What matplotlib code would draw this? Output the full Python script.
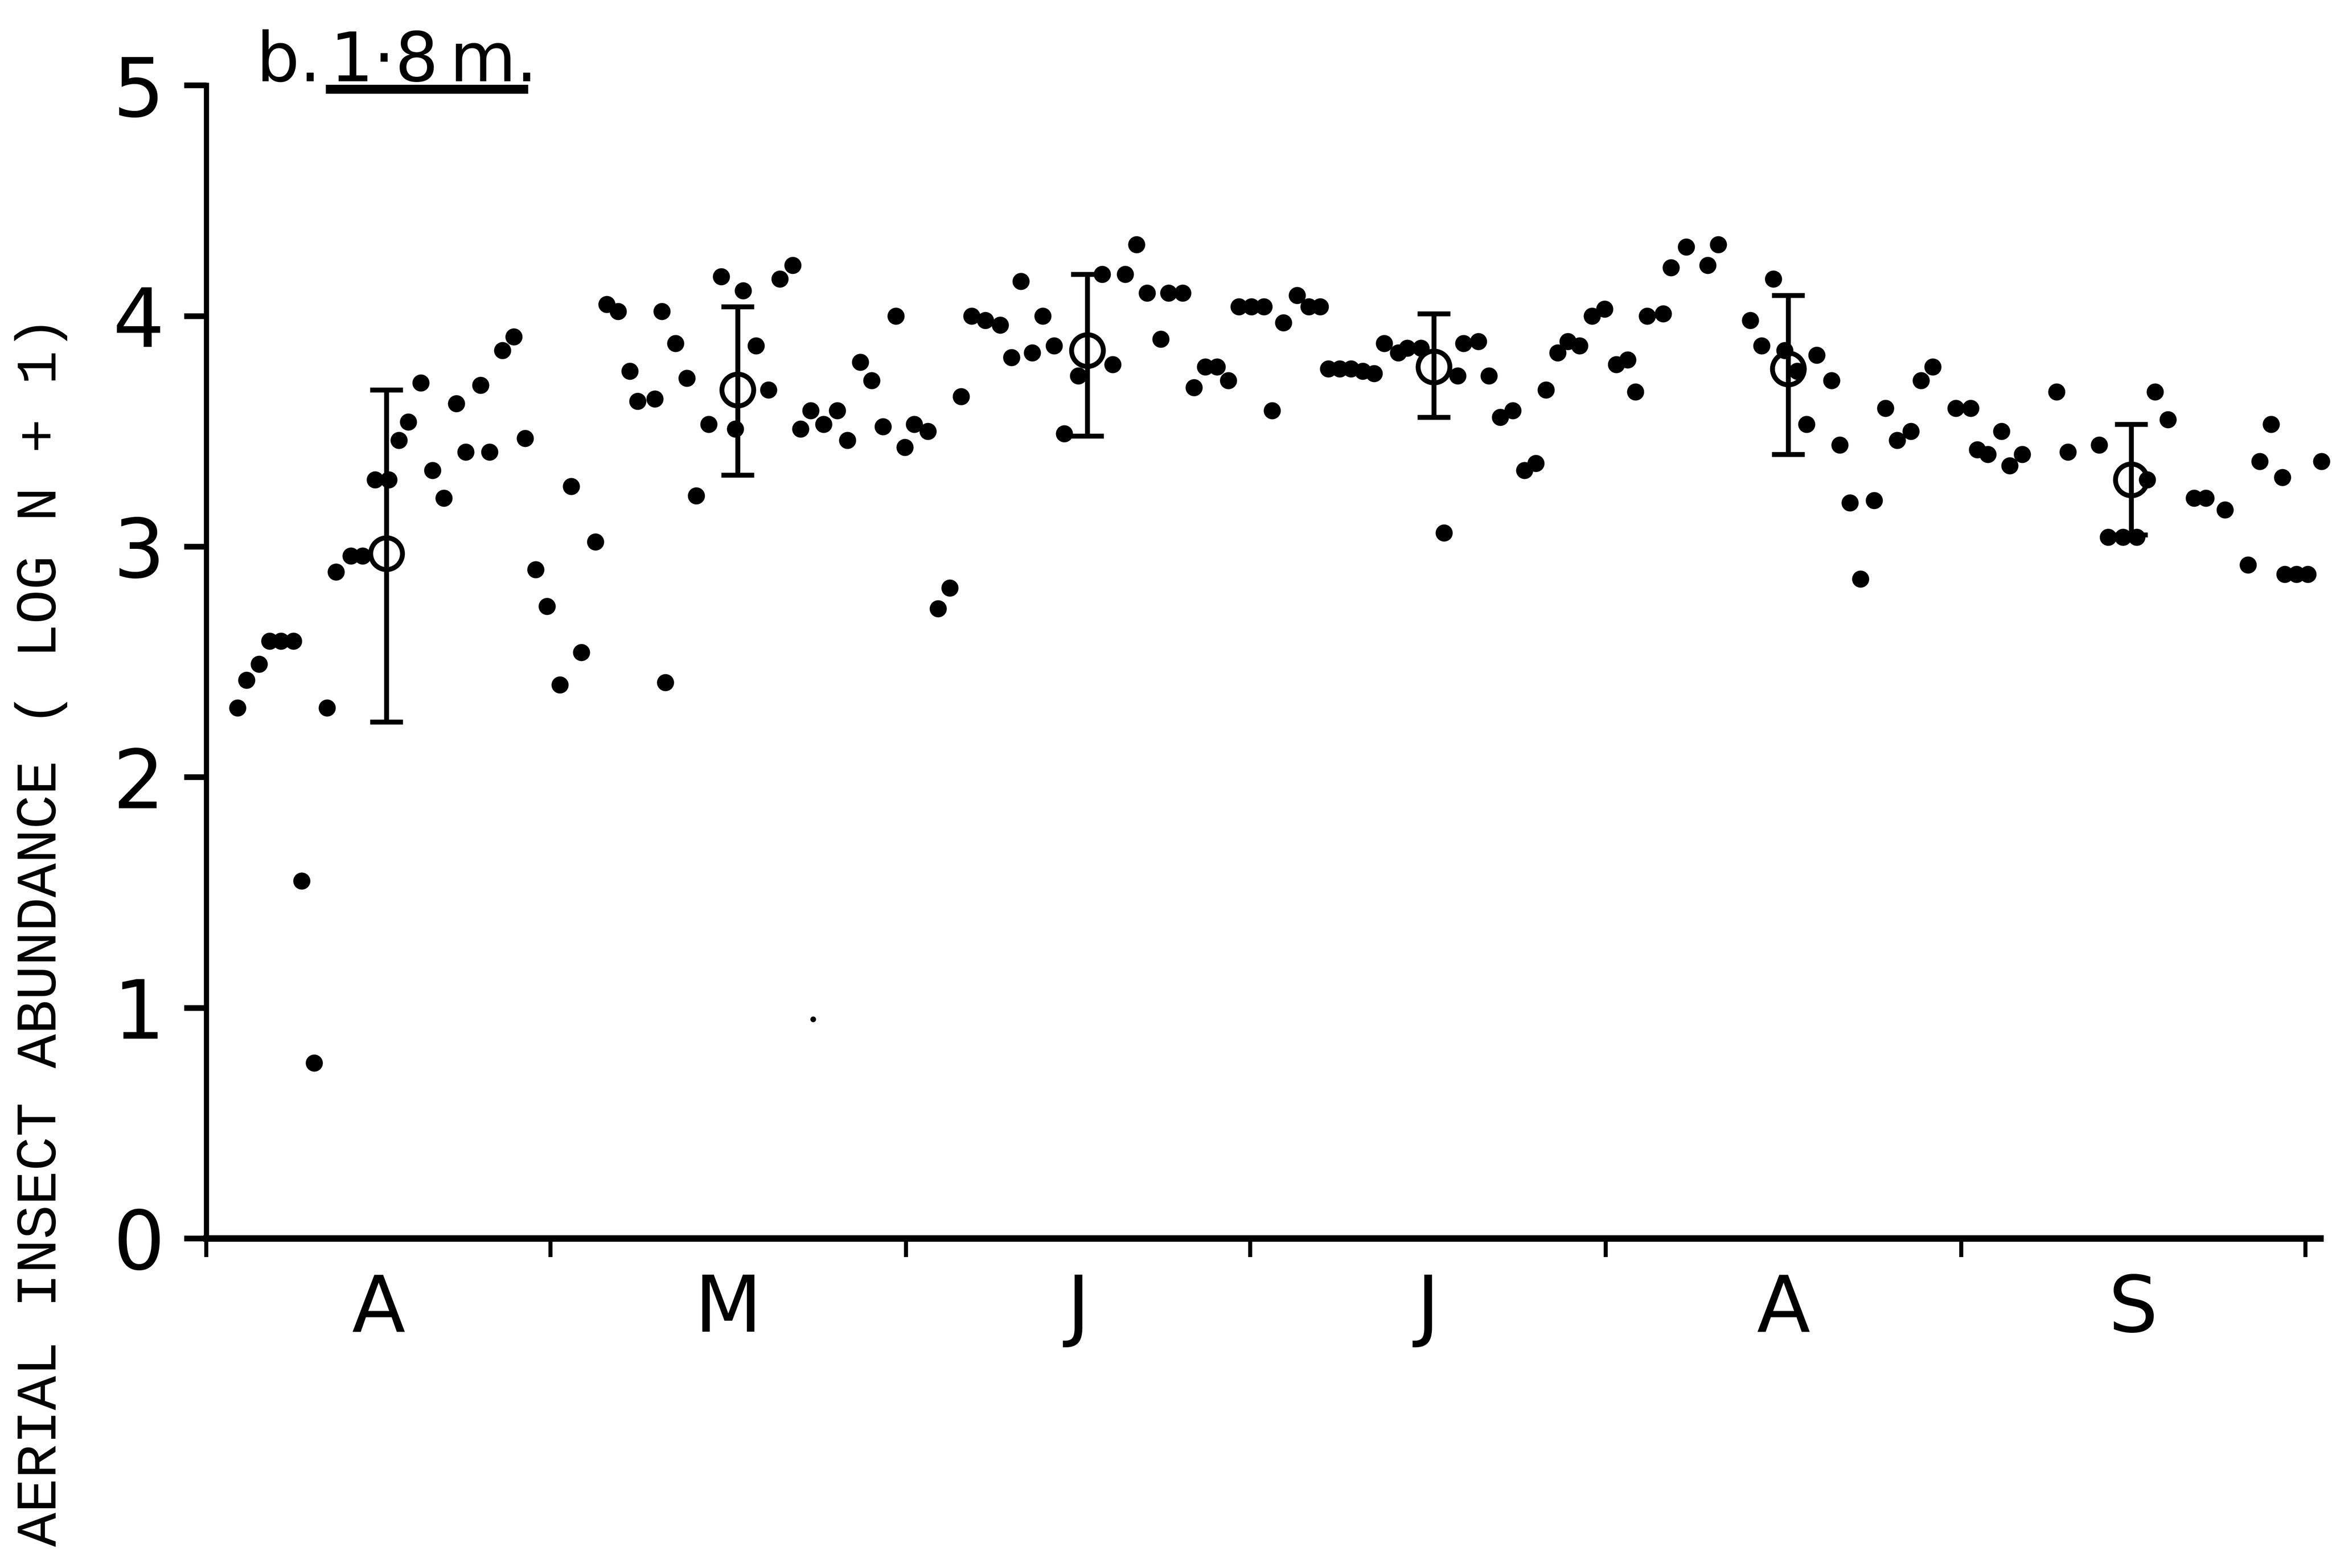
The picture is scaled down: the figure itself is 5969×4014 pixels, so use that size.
import matplotlib
matplotlib.use("Agg")
import matplotlib.pyplot as plt
from matplotlib.lines import Line2D

# ---- data (x = days since 1 April, y = log(N+1)) ----
days = [2.7, 3.5, 4.6, 5.5, 6.5, 7.6, 8.3, 9.4, 10.5, 11.3,
        12.6, 13.6, 14.7, 15.9, 16.8, 17.6, 18.7, 19.7, 20.7, 21.8,
        22.6, 23.9, 24.7, 25.8, 26.8, 27.8, 28.7, 29.7, 30.8, 31.8,
        32.7, 33.9, 34.9, 35.9, 36.9, 37.6, 39.1, 39.7, 40.0, 40.9,
        41.9, 42.7, 43.8, 44.9, 46.1, 46.8, 47.9, 49.0, 50.0, 51.1,
        51.8, 52.7, 53.8, 55.0, 55.9, 57.0, 58.0, 59.0, 60.1, 60.9,
        61.7, 62.9, 63.8, 64.8, 65.8, 66.7, 67.9, 69.2, 70.2, 71.0,
        72.0, 72.9, 73.9, 74.8, 76.0, 78.1, 79.0, 80.1, 81.1, 82.0,
        83.2, 83.9, 85.1, 86.1, 87.1, 88.1, 89.1, 90.0, 91.1, 92.2,
        92.9, 93.9, 95.1, 96.1, 97.1, 97.8, 98.8, 99.8, 100.8, 101.8,
        102.7, 103.9, 104.7, 105.9, 107.9, 109.1, 109.6, 110.9, 111.8, 112.8,
        113.9, 114.9, 115.9, 116.8, 117.8, 118.7, 119.7, 120.8, 121.9, 122.9,
        123.9, 124.6, 125.6, 127.0, 127.7, 129.0, 130.9, 131.8, 134.6, 135.6,
        136.6, 137.6, 138.7, 139.5, 140.4, 141.7, 142.4, 143.3, 144.2, 145.4,
        146.4, 147.4, 148.6, 149.5, 150.5, 152.5, 153.8, 154.4, 155.3, 156.5,
        157.2, 158.3, 161.3, 162.3, 165.0, 165.8, 167.1, 168.3, 169.2, 169.9,
        171.0, 173.3, 174.3, 176.0, 178.0, 179.0, 180.0, 181.0, 181.2, 182.2,
        183.2, 184.4]
abundance = [2.30, 2.42, 2.49, 2.59, 2.59, 2.59, 1.55, 0.76, 2.30, 2.89,
             2.96, 2.96, 3.29, 3.29, 3.46, 3.54, 3.71, 3.33, 3.21, 3.62,
             3.41, 3.70, 3.41, 3.85, 3.91, 3.47, 2.90, 2.74, 2.40, 3.26,
             2.54, 3.02, 4.05, 4.02, 3.76, 3.63, 3.64, 4.02, 2.41, 3.88,
             3.73, 3.22, 3.53, 4.17, 3.51, 4.11, 3.87, 3.68, 4.16, 4.22,
             3.51, 3.59, 3.53, 3.59, 3.46, 3.80, 3.72, 3.52, 4.00, 3.43,
             3.53, 3.50, 2.73, 2.82, 3.65, 4.00, 3.98, 3.96, 3.82, 4.15,
             3.84, 4.00, 3.87, 3.49, 3.74, 4.18, 3.79, 4.18, 4.31, 4.10,
             3.90, 4.10, 4.10, 3.69, 3.78, 3.78, 3.72, 4.04, 4.04, 4.04,
             3.59, 3.97, 4.09, 4.04, 4.04, 3.77, 3.77, 3.77, 3.76, 3.75,
             3.88, 3.84, 3.86, 3.86, 3.06, 3.74, 3.88, 3.89, 3.74, 3.56,
             3.59, 3.33, 3.36, 3.68, 3.84, 3.89, 3.87, 4.00, 4.03, 3.79,
             3.81, 3.67, 4.00, 4.01, 4.21, 4.30, 4.22, 4.31, 3.98, 3.87,
             4.16, 3.85, 3.76, 3.53, 3.83, 3.72, 3.44, 3.19, 2.86, 3.20,
             3.60, 3.46, 3.50, 3.72, 3.78, 3.60, 3.60, 3.42, 3.40, 3.50,
             3.35, 3.40, 3.67, 3.41, 3.44, 3.04, 3.04, 3.04, 3.29, 3.67,
             3.55, 3.21, 3.21, 3.16, 2.92, 3.37, 3.53, 3.30, 2.88, 2.88,
             2.88, 3.37]
trace_day = [52.9]
trace_val = [0.95]

mean_day = [15.7, 46.3, 76.8, 107.0, 137.9, 167.8]
mean_val = [2.97, 3.68, 3.85, 3.78, 3.77, 3.29]
err_low = [2.24, 3.31, 3.48, 3.56, 3.40, 3.05]
err_high = [3.68, 4.04, 4.18, 4.01, 4.09, 3.53]

month_edges = [0, 30, 61, 91, 122, 153, 183]
month_labels = ["A", "M", "J", "J", "A", "S"]
y_ticks = [0, 1, 2, 3, 4, 5]
y_tick_labels = ["0", "1", "2", "3", "4", "5"]

# ---- figure ----
W, H, DPI = 5969, 4014, 300
fig = plt.figure(figsize=(W / DPI, H / DPI), dpi=DPI)
ax = fig.add_axes([0.0885, 0.2103, 0.995 - 0.0885, 0.9456 - 0.2103])

ax.plot(days, abundance, "o", color="black", ms=10.5, mew=0, clip_on=False)
ax.plot(trace_day, trace_val, "o", color="black", ms=3.5, mew=0, clip_on=False)

lower = [m - l for m, l in zip(mean_val, err_low)]
upper = [h - m for m, h in zip(mean_val, err_high)]
ax.errorbar(mean_day, mean_val, yerr=[lower, upper], fmt="o", mfc="none",
            mec="black", ms=19.5, mew=3, ecolor="black", elinewidth=3,
            capsize=10, capthick=3, clip_on=False)

ax.set_xlim(0, 184.3)
ax.set_ylim(0, 5)

for s in ("top", "right"):
    ax.spines[s].set_visible(False)
ax.spines["left"].set_linewidth(3.2)
ax.spines["bottom"].set_linewidth(4.0)

ax.set_xticks(month_edges)
ax.set_xticklabels([])
mids = [(a + b) / 2 for a, b in zip(month_edges[:-1], month_edges[1:])]
ax.set_xticks(mids, minor=True)
ax.set_xticklabels(month_labels, minor=True, fontsize=48, family="DejaVu Sans")
ax.tick_params(axis="x", which="major", direction="out", length=11.6, width=2.5)
ax.tick_params(axis="x", which="minor", length=0, pad=21)

ax.set_yticks(y_ticks)
ax.set_yticklabels(y_tick_labels, fontsize=50, family="DejaVu Sans")
ax.tick_params(axis="y", direction="out", length=13.6, width=3.5, pad=12)

fig.text(0.0176, 0.406, "AERIAL INSECT ABUNDANCE ( LOG N + 1)", rotation=90,
         ha="center", va="center", fontsize=35,
         family=["Liberation Mono", "DejaVu Sans Mono"])

# panel title
base_y = 1 - 208 / 4014
fig.text(172 / 1568, base_y, "b.", fontsize=42, family="DejaVu Sans",
         ha="left", va="baseline")
fig.text(222 / 1568, base_y, "1·8", fontsize=42, family="DejaVu Sans",
         ha="left", va="baseline")
fig.text(302 / 1568, base_y, "m.", fontsize=42, family="DejaVu Sans",
         ha="left", va="baseline")
fig.add_artist(Line2D([222 / 1568, 352 / 1568], [1 - 228 / 4014, 1 - 228 / 4014],
                      transform=fig.transFigure, color="black", lw=5.5))

fig.savefig("out.png", dpi=DPI, facecolor="white")
